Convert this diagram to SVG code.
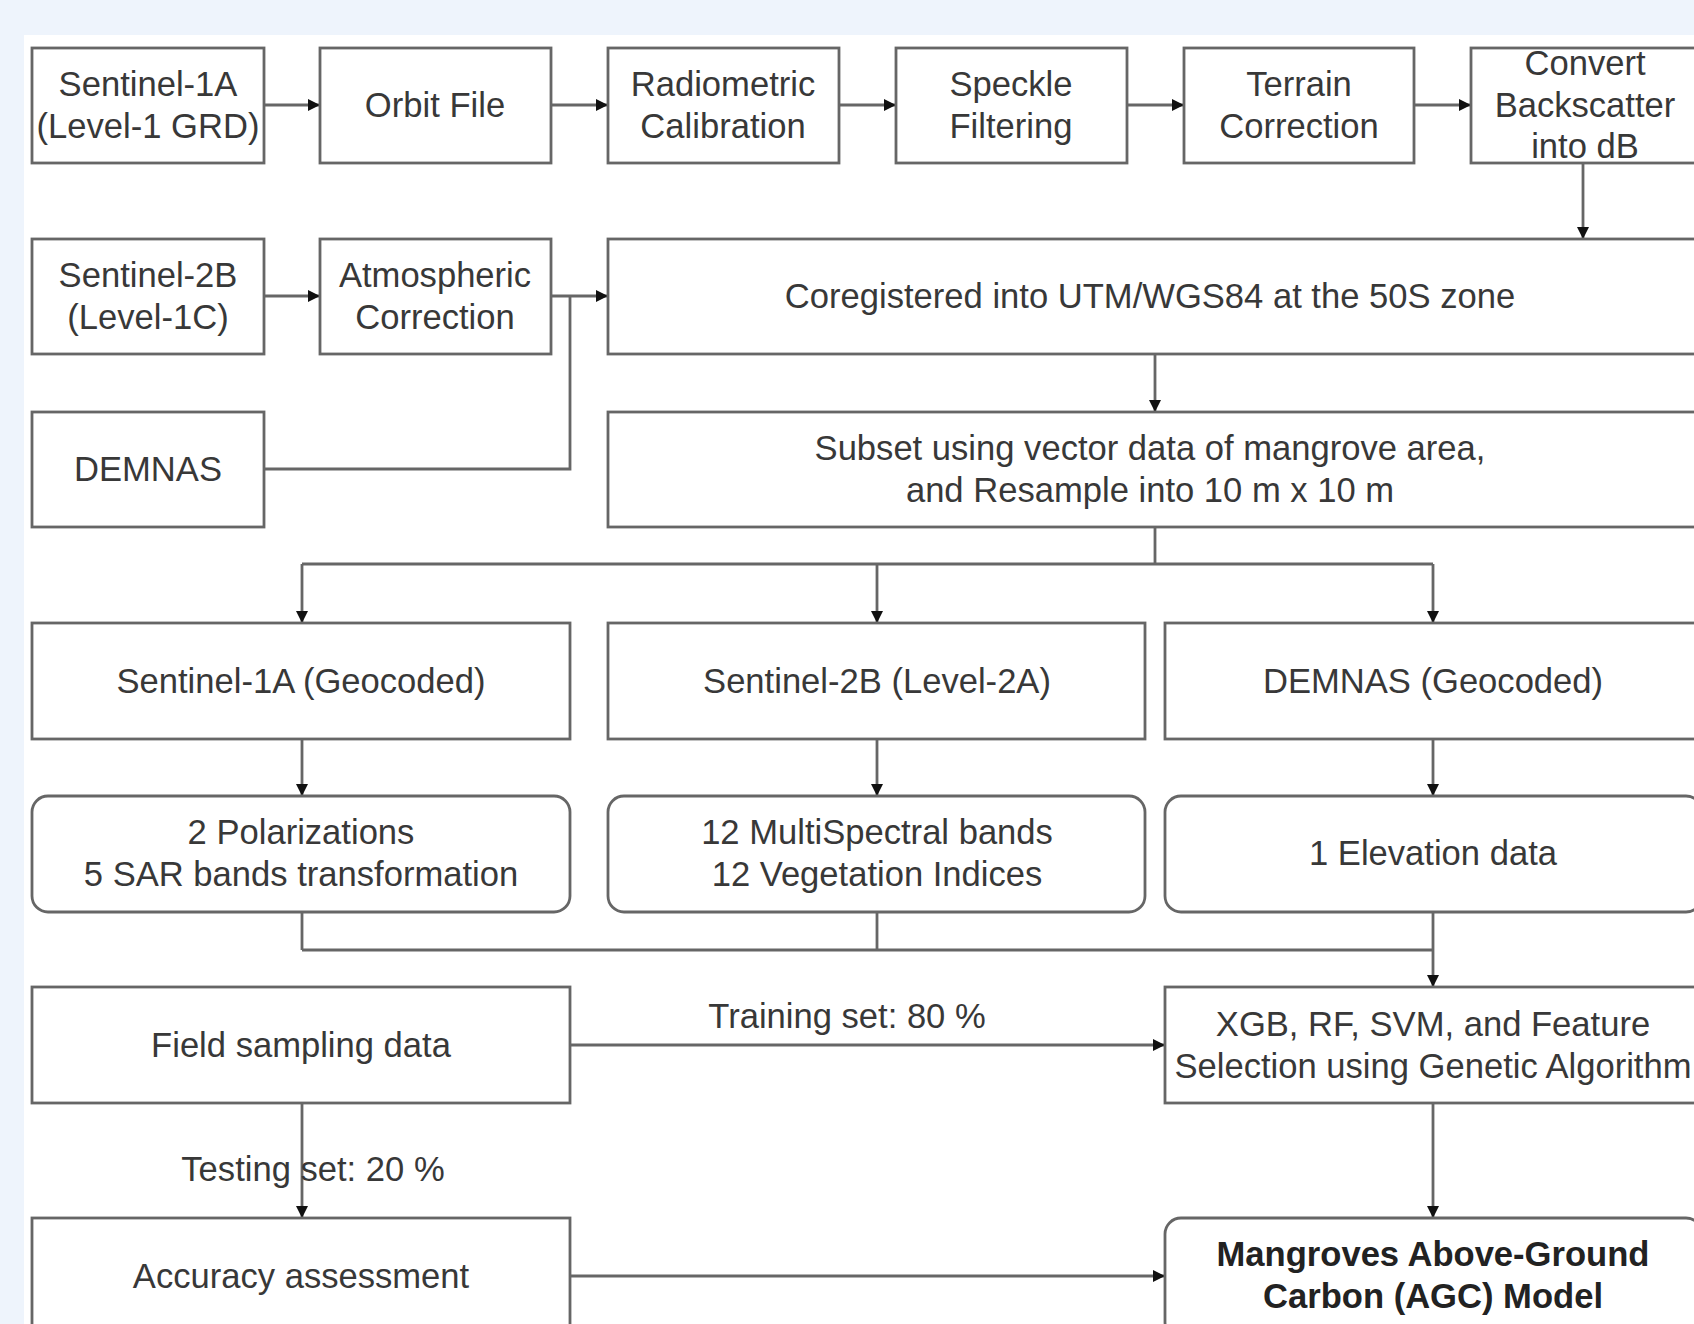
<svg xmlns="http://www.w3.org/2000/svg" width="1694" height="1324" viewBox="0 0 1694 1324">
<style>
.box{fill:#fff;stroke:#666;stroke-width:2.8}
.t{font-family:"Liberation Sans",Arial,sans-serif;font-size:34.6px;fill:#383838;text-anchor:middle;dominant-baseline:central}
.b{font-weight:bold;fill:#222}
.c{fill:none;stroke:#666;stroke-width:2.8}
.a{marker-end:url(#arr)}
</style>
<defs>
<marker id="arr" viewBox="0 0 10 10" refX="10" refY="5" markerWidth="12" markerHeight="12" markerUnits="userSpaceOnUse" orient="auto"><path d="M0,0 L10,5 L0,10 z" fill="#111"/></marker>
</defs>
<rect x="0" y="0" width="1694" height="1324" fill="#EEF4FC"/>
<rect x="24" y="35" width="1670" height="1289" fill="#fff"/>

<g id="connectors">
<line class="c a" x1="264" y1="105" x2="320" y2="105"/>
<line class="c a" x1="551" y1="105" x2="608" y2="105"/>
<line class="c a" x1="839" y1="105" x2="896" y2="105"/>
<line class="c a" x1="1127" y1="105" x2="1184" y2="105"/>
<line class="c a" x1="1414" y1="105" x2="1471" y2="105"/>
<line class="c a" x1="1583" y1="163" x2="1583" y2="239"/>
<line class="c a" x1="264" y1="296" x2="320" y2="296"/>
<line class="c a" x1="551" y1="296" x2="608" y2="296"/>
<polyline class="c" points="264,469 570,469 570,296"/>
<line class="c a" x1="1155" y1="354" x2="1155" y2="412"/>
<line class="c" x1="1155" y1="527" x2="1155" y2="564"/>
<line class="c" x1="302" y1="564" x2="1433" y2="564"/>
<line class="c a" x1="302" y1="564" x2="302" y2="623"/>
<line class="c a" x1="877" y1="564" x2="877" y2="623"/>
<line class="c a" x1="1433" y1="564" x2="1433" y2="623"/>
<line class="c a" x1="302" y1="739" x2="302" y2="796"/>
<line class="c a" x1="877" y1="739" x2="877" y2="796"/>
<line class="c a" x1="1433" y1="739" x2="1433" y2="796"/>
<line class="c" x1="302" y1="912" x2="302" y2="950"/>
<line class="c" x1="877" y1="912" x2="877" y2="950"/>
<line class="c" x1="302" y1="950" x2="1433" y2="950"/>
<line class="c a" x1="1433" y1="912" x2="1433" y2="987"/>
<line class="c a" x1="570" y1="1045" x2="1165" y2="1045"/>
<text class="t" x="847" y="1016">Training set: 80 %</text>
<line class="c a" x1="302" y1="1103" x2="302" y2="1218"/>
<text class="t" x="313" y="1169">Testing set: 20 %</text>
<line class="c a" x1="1433" y1="1103" x2="1433" y2="1218"/>
<line class="c a" x1="570" y1="1276" x2="1165" y2="1276"/>
</g>

<g id="n-s1a"><rect class="box" x="32" y="48" width="232" height="115"/><text class="t" x="148" y="84">Sentinel-1A</text><text class="t" x="148" y="126">(Level-1 GRD)</text></g>
<g id="n-orbit"><rect class="box" x="320" y="48" width="231" height="115"/><text class="t" x="435" y="105">Orbit File</text></g>
<g id="n-radio"><rect class="box" x="608" y="48" width="231" height="115"/><text class="t" x="723" y="84">Radiometric</text><text class="t" x="723" y="126">Calibration</text></g>
<g id="n-speckle"><rect class="box" x="896" y="48" width="231" height="115"/><text class="t" x="1011" y="84">Speckle</text><text class="t" x="1011" y="126">Filtering</text></g>
<g id="n-terrain"><rect class="box" x="1184" y="48" width="230" height="115"/><text class="t" x="1299" y="84">Terrain</text><text class="t" x="1299" y="126">Correction</text></g>
<g id="n-convert"><rect class="box" x="1471" y="48" width="230" height="115"/><text class="t" x="1585" y="63">Convert</text><text class="t" x="1585" y="105">Backscatter</text><text class="t" x="1585" y="146">into dB</text></g>

<g id="n-s2b"><rect class="box" x="32" y="239" width="232" height="115"/><text class="t" x="148" y="275">Sentinel-2B</text><text class="t" x="148" y="317">(Level-1C)</text></g>
<g id="n-atmos"><rect class="box" x="320" y="239" width="231" height="115"/><text class="t" x="435" y="275">Atmospheric</text><text class="t" x="435" y="317">Correction</text></g>
<g id="n-coreg"><rect class="box" x="608" y="239" width="1094" height="115"/><text class="t" x="1150" y="296">Coregistered into UTM/WGS84 at the 50S zone</text></g>

<g id="n-demnas"><rect class="box" x="32" y="412" width="232" height="115"/><text class="t" x="148" y="469">DEMNAS</text></g>
<g id="n-subset"><rect class="box" x="608" y="412" width="1094" height="115"/><text class="t" x="1150" y="448">Subset using vector data of mangrove area,</text><text class="t" x="1150" y="490">and Resample into 10 m x 10 m</text></g>

<g id="n-s1geo"><rect class="box" x="32" y="623" width="538" height="116"/><text class="t" x="301" y="681">Sentinel-1A (Geocoded)</text></g>
<g id="n-s2l2a"><rect class="box" x="608" y="623" width="537" height="116"/><text class="t" x="877" y="681">Sentinel-2B (Level-2A)</text></g>
<g id="n-demgeo"><rect class="box" x="1165" y="623" width="537" height="116"/><text class="t" x="1433" y="681">DEMNAS (Geocoded)</text></g>

<g id="n-pol"><rect class="box" x="32" y="796" width="538" height="116" rx="16"/><text class="t" x="301" y="832">2 Polarizations</text><text class="t" x="301" y="874">5 SAR bands transformation</text></g>
<g id="n-ms"><rect class="box" x="608" y="796" width="537" height="116" rx="16"/><text class="t" x="877" y="832">12 MultiSpectral bands</text><text class="t" x="877" y="874">12 Vegetation Indices</text></g>
<g id="n-elev"><rect class="box" x="1165" y="796" width="537" height="116" rx="16"/><text class="t" x="1433" y="853">1 Elevation data</text></g>

<g id="n-field"><rect class="box" x="32" y="987" width="538" height="116"/><text class="t" x="301" y="1045">Field sampling data</text></g>
<g id="n-xgb"><rect class="box" x="1165" y="987" width="537" height="116"/><text class="t" x="1433" y="1024">XGB, RF, SVM, and Feature</text><text class="t" x="1433" y="1066">Selection using Genetic Algorithm</text></g>

<g id="n-acc"><rect class="box" x="32" y="1218" width="538" height="120"/><text class="t" x="301" y="1276">Accuracy assessment</text></g>
<g id="n-agc"><rect class="box" x="1165" y="1218" width="537" height="120" rx="16"/><text class="t b" x="1433" y="1254">Mangroves Above-Ground</text><text class="t b" x="1433" y="1296">Carbon (AGC) Model</text></g>
</svg>
